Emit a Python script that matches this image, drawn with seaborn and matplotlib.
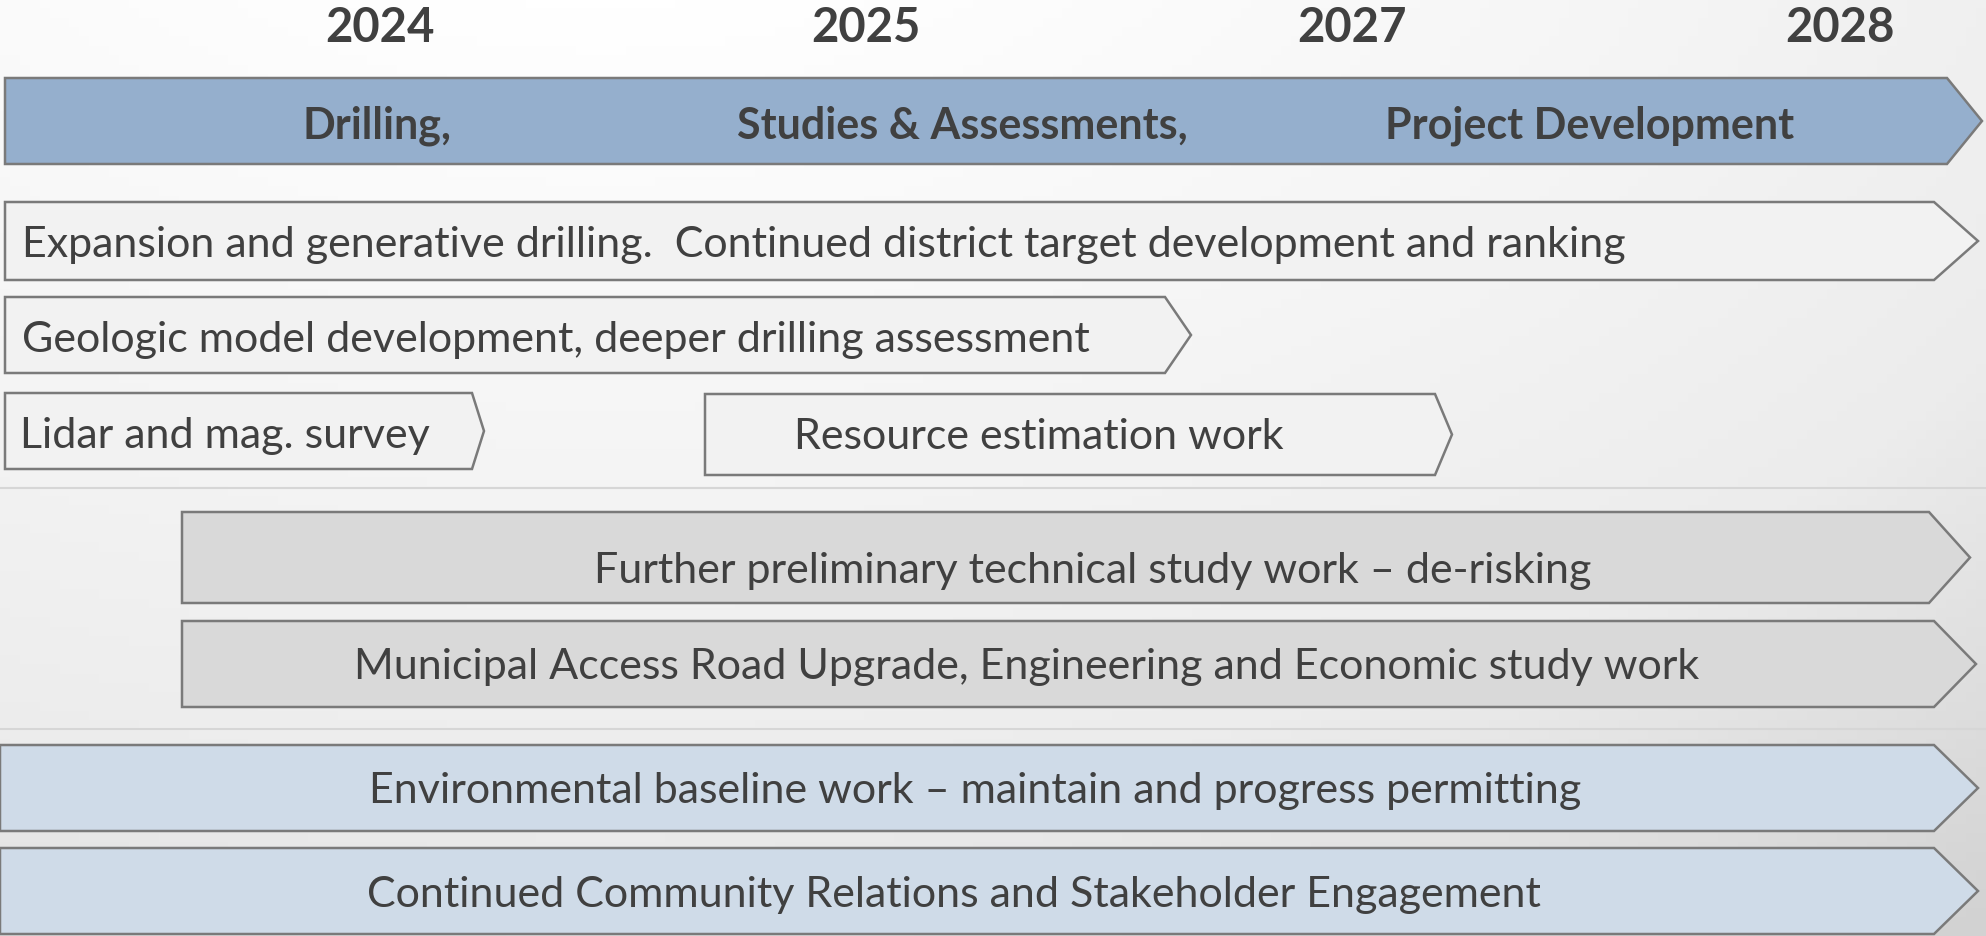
import numpy as np
import seaborn as sns
import matplotlib.pyplot as plt
from matplotlib.colors import LinearSegmentedColormap

# timeline header
years = ["2024", "2025", "2027", "2028"]
year_pos = [380, 866, 1352, 1840]

phases = ["Drilling,", "Studies & Assessments,", "Project Development"]
phase_pos = [377, 962, 1590]

# workstreams (x in timeline units, 0..1986)
tasks = [
    "Expansion and generative drilling.  Continued district target development and ranking",
    "Geologic model development, deeper drilling assessment",
    "Lidar and mag. survey",
    "Resource estimation work",
    "Further preliminary technical study work \u2013 de-risking",
    "Municipal Access Road Upgrade, Engineering and Economic study work",
    "Environmental baseline work \u2013 maintain and progress permitting",
    "Continued Community Relations and Stakeholder Engagement",
]
starts = [5, 5, 5, 705, 182, 182, 0, 0]
ends = [1934, 1165, 472, 1435, 1929, 1934, 1934, 1934]
tips = [1978, 1191, 484, 1452, 1970, 1976, 1978, 1978]
groups = ["drill", "drill", "drill", "drill", "study", "study", "env", "env"]

# layout
tops = [203, 298, 394, 395, 513, 622, 746, 849]
bottoms = [281, 374, 470, 476, 604, 708, 832, 935]
label_x = [22, 22, 20, 1039, 1093, 1027, 975, 954]
label_dy = [3, 4, 4, 2, 13, 2, 2, 3]
label_ha = ["left", "left", "left", "center", "center", "center", "center", "center"]
fills = {"drill": "#f2f2f2", "study": "#d9d9d9", "env": "#cfdbe8"}

sns.set_theme(style="white")
plt.rcParams['font.family'] = ['Lato', 'DejaVu Sans']

W, H = 1986, 937
fig = plt.figure(figsize=(W / 100, H / 100), dpi=100)
ax = fig.add_axes([0, 0, 1, 1])
ax.set_xlim(0, W)
ax.set_ylim(H, 0)
ax.axis("off")

# soft background gradient
gx, gy = np.meshgrid(np.linspace(0, W, 200), np.linspace(0, H, 100))
dist = np.sqrt((gx - 600) ** 2 + ((gy + 250) * 1.6) ** 2)
dist = dist / dist.max()
bg_cmap = LinearSegmentedColormap.from_list("bg", ["#ffffff", "#f6f6f6", "#ececec", "#d2d2d2"])
ax.imshow(dist, extent=[0, W, H, 0], cmap=bg_cmap, aspect="auto", zorder=0)

edge = "#7a7a7a"
txt = "#404040"


def chevron(x0, x1, xt, y0, y1, color):
    ym = (y0 + y1) / 2
    ax.fill([x0, x1, xt, x1, x0], [y0, y0, ym, y1, y1], facecolor=color,
            edgecolor=edge, linewidth=1.8, zorder=2, joinstyle="miter")


# header chevron
chevron(5, 1947, 1982, 79, 165, "#95afcd")
for name, x in zip(phases, phase_pos):
    ax.text(x, 126, name, ha="center", va="center", fontsize=31,
            fontweight="bold", color=txt, zorder=3)
for y, x in zip(years, year_pos):
    ax.text(x, 28, y, ha="center", va="center", fontsize=34,
            fontweight="bold", color=txt, zorder=3)

# separators
for ysep in [489, 730]:
    ax.plot([0, W], [ysep, ysep], color="#d6d6d6", linewidth=1.5, zorder=1)

for i, t in enumerate(tasks):
    chevron(starts[i], ends[i], tips[i], tops[i], bottoms[i], fills[groups[i]])
    ax.text(label_x[i], (tops[i] + bottoms[i]) / 2 + label_dy[i], t, ha=label_ha[i],
            va="center", fontsize=31, color=txt, zorder=3)

fig.savefig("out.png", dpi=100)
